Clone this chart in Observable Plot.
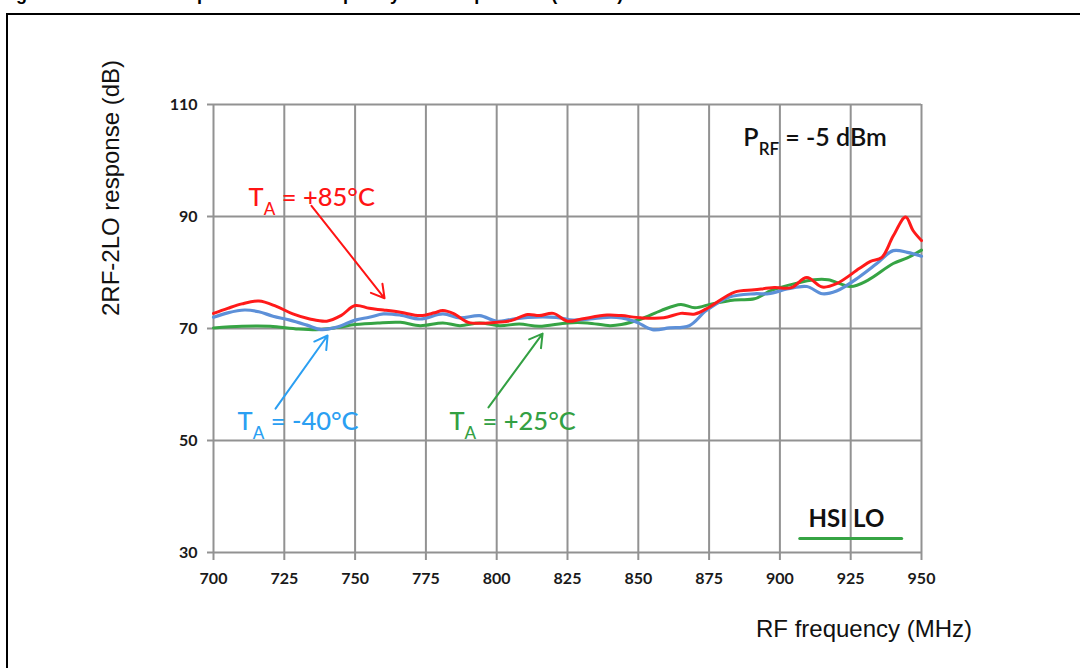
<!DOCTYPE html>
<html><head><meta charset="utf-8">
<script src="https://cdn.jsdelivr.net/npm/d3@7"></script>
<script src="https://cdn.jsdelivr.net/npm/@observablehq/plot@0.6"></script>
<style>
html,body{margin:0;padding:0;background:#fff;width:1080px;height:668px;overflow:hidden;}
#wrap{position:relative;width:1080px;height:668px;overflow:hidden;}
#title{position:absolute;left:0px;top:-16px;font:bold 18px "Liberation Sans",Arial,sans-serif;white-space:nowrap;color:#000;}
#frame{position:absolute;left:6px;top:13px;width:1100px;height:700px;border-left:2px solid #000;border-top:2px solid #000;}
#chart{position:absolute;left:0;top:0;}
#chart g[aria-label$="tick label"] text{font-weight:bold;}
</style></head><body>
<div id="wrap"><div id="title">Figure 30. 2RF-2LO response vs. RF frequency and temperature (HSI LO)</div><div id="frame"></div><div id="chart"></div></div>
<script>
// ---- data ----
const freq85 = [700,705,710,716,722,728,734,740,745,750,755,760,766,773,778,781,785,790,800,805,811,815,820,825,830,839,844,851,859,865,870,875,884,891,898,904,909.5,915,920,928,932,936,940,944.4,947,950];
const resp85 = [72.7,73.6,74.4,74.9,74.0,72.6,71.7,71.3,72.3,74.1,73.6,73.3,72.9,72.3,72.8,73.2,72.6,71.1,71.1,71.4,72.5,72.3,72.7,71.3,71.7,72.4,72.3,71.9,71.9,72.7,72.6,73.8,76.5,76.9,77.3,77.3,79.1,77.4,78.0,80.7,82.0,82.7,86.5,89.9,87.5,85.7];

const freqM40 = [700,705,711,716,721,727,733,738,744,750,755,760,766,773,781,787,794,800,805,811,821,827,833,839,844,848,850,855,861,868,874,882,891,896,903,909.5,915,920,928,934,940,945,950];
const respM40 = [72.0,72.8,73.3,73.0,72.2,71.5,70.6,69.8,70.3,71.5,72.0,72.6,72.4,71.7,72.6,71.9,72.3,71.3,71.6,72.0,72.0,71.5,71.7,72.0,71.9,71.4,71.0,69.8,70.1,70.5,73.2,75.6,76.2,76.2,77.1,77.5,76.2,76.7,79.2,81.5,83.9,83.6,82.9];

const freq25 = [700,710,720,730,738,744,750,758,766,773,781,787,794,801,808,815,825,832,840,844,851,858,865,870,876,884,891,897,906,912,917,925,931,940,945,950];
const resp25 = [70.1,70.4,70.4,69.9,69.8,70.2,70.7,71.0,71.1,70.5,71.0,70.5,71.0,70.5,70.8,70.4,71.0,71.0,70.5,70.7,71.7,73.2,74.3,73.7,74.4,75.1,75.3,76.8,78.1,78.7,78.7,77.5,78.6,81.6,82.6,84.0];

const xTicks = [700,725,750,775,800,825,850,875,900,925,950];
const yTicks = [30,50,70,90,110];

const labelText = ["T_A = +85°C","T_A = -40°C","T_A = +25°C"];
const labelX = [712.4,708.5,783.3];
const labelY = [93.4,53.4,53.4];
const labelColor = ["#ff1414","#2b9ff2","#33a043"];
const arrowX1 = [734.6,721.9,797.1];
const arrowY1 = [91.9,55.7,55.9];
const arrowX2 = [760.4,740.3,816.2];
const arrowY2 = [75.4,68.75,69.1];

const powerText = "P_RF = -5 dBm";
const legendText = "HSI LO";
const legendLineX = [907,943];
const legendLineY = [32.5,32.5];
const xLabel = "RF frequency (MHz)";
const yLabel = "2RF-2LO response (dB)";

// ---- tables ----
const s85 = freq85.map((f,i)=>({f, v:resp85[i]}));
const sM40 = freqM40.map((f,i)=>({f, v:respM40[i]}));
const s25 = freq25.map((f,i)=>({f, v:resp25[i]}));
const labels = labelText.map((t,i)=>({t, x:labelX[i], y:labelY[i], c:labelColor[i]}));
const arrows = arrowX1.map((x1,i)=>({x1, y1:arrowY1[i], x2:arrowX2[i], y2:arrowY2[i], c:labelColor[i]}));
const legendLine = legendLineX.map((x,i)=>({x, y:legendLineY[i]}));

const grid = "#929292";
const plot = Plot.plot({
  width:1080, height:668,
  marginLeft:213, marginRight:159, marginTop:104, marginBottom:116,
  x:{domain:[700,950]},
  y:{domain:[30,110]},
  style:{background:"transparent", fontFamily:"Lato, 'Open Sans', sans-serif", overflow:"visible"},
  marks:[
    Plot.gridX(xTicks,{stroke:grid, strokeOpacity:1, strokeWidth:2}),
    Plot.gridY(yTicks,{stroke:grid, strokeOpacity:1, strokeWidth:2}),
    Plot.axisX(xTicks,{tickSize:8, tickPadding:12, stroke:grid, strokeWidth:2, fill:"#1a1a1a", fontSize:16, fontWeight:"bold", label:null, tickFormat:d=>String(d)}),
    Plot.axisY(yTicks,{tickSize:6, tickPadding:10, stroke:grid, strokeWidth:2, fill:"#1a1a1a", fontSize:16, fontWeight:"bold", label:null, tickFormat:d=>String(d)}),
    Plot.line(s25,{x:"f", y:"v", stroke:"#36a444", strokeWidth:3, curve:"catmull-rom"}),
    Plot.line(sM40,{x:"f", y:"v", stroke:"#5d90d8", strokeWidth:3.2, curve:"catmull-rom"}),
    Plot.line(s85,{x:"f", y:"v", stroke:"#ff1a1a", strokeWidth:3, curve:"catmull-rom"}),
    Plot.arrow(arrows,{x1:"x1", y1:"y1", x2:"x2", y2:"y2", stroke:"c", strokeWidth:2, headLength:11}),
    Plot.text(labels,{x:"x", y:"y", text:"t", fill:"c", textAnchor:"start", fontSize:25.5, fontWeight:500, className:"subann"}),
    Plot.text([powerText],{x:[887.1], y:[104.0], text:d=>d, fill:"#111", textAnchor:"start", fontSize:25, fontWeight:600, className:"subann"}),
    Plot.text([legendText],{x:[910.1], y:[35.9], text:d=>d, fill:"#111", textAnchor:"start", fontSize:24, fontWeight:"bold"}),
    Plot.line(legendLine,{x:"x", y:"y", stroke:"#36a444", strokeWidth:3})
  ]
});
document.getElementById("chart").appendChild(plot);

// subscripts
d3.select(plot).selectAll("g.subann text").each(function(){
  const s = this.textContent;
  const m = s.match(/^([^_]+)_(\S+?)(\s.*)$/);
  if(!m) return;
  const fs = parseFloat(d3.select(this.parentNode).attr("font-size")) || 24;
  const el = d3.select(this);
  el.text(null);
  el.append("tspan").text(m[1]);
  el.append("tspan").text(m[2]).attr("font-size", Math.round(fs*0.66)).attr("dy", fs*0.36);
  el.append("tspan").text(m[3]).attr("dy", -fs*0.36);
});

// axis titles
const svg = d3.select(plot);
svg.append("text").attr("x",864).attr("y",637).attr("text-anchor","middle")
  .attr("font-family","'Liberation Sans', Arial, sans-serif").attr("font-size",24).attr("fill","#111").text(xLabel);
svg.append("text").attr("transform","translate(119,188) rotate(-90)").attr("text-anchor","middle")
  .attr("font-family","'Liberation Sans', Arial, sans-serif").attr("font-size",24).attr("fill","#111").text(yLabel);
</script>
</body></html>
